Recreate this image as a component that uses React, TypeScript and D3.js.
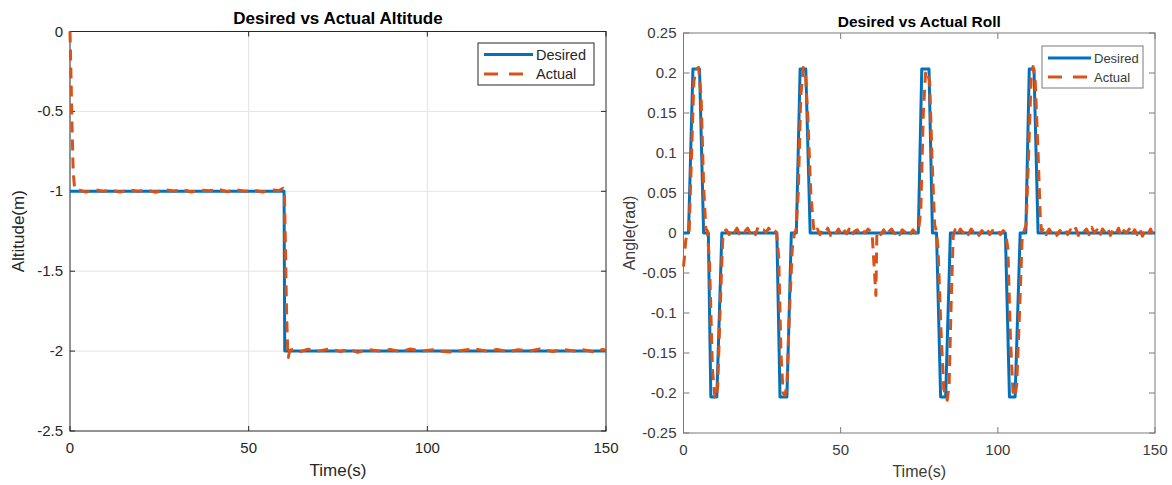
import * as d3 from 'd3'
import { useEffect, useRef } from 'react'

const W = 1172, H = 485
const FONT = '"Liberation Sans", Arial, Helvetica, sans-serif'
const BLUE = '#0072BD', ORANGE = '#D95319'

type Pt = [number, number]

const timeTicks = [0, 50, 100, 150]
const altTicks = [-2.5, -2, -1.5, -1, -0.5, 0]
const rollTicks = [-0.25, -0.2, -0.15, -0.1, -0.05, 0, 0.05, 0.1, 0.15, 0.2, 0.25]
const legendNames = ['Desired', 'Actual']

// altitude (m) vs time (s)
const desiredAlt: Pt[] = [[0, -1], [59.9, -1], [60.1, -2], [150, -2]]
const actualAlt: Pt[] = [
  [0, 0], [0.3, -0.3], [0.6, -0.62], [0.9, -0.88], [1.3, -0.985], [2.2, -0.99], [4.5, -1.005],
  [7, -0.99], [9.2, -1.0], [11.5, -0.992], [14, -1.005], [16.5, -0.99], [19, -1.0], [21.5, -0.993],
  [24, -1.006], [26.5, -0.99], [29, -0.998], [31.5, -0.99], [34, -1.004], [36.5, -0.992], [39, -0.997],
  [41.5, -0.988], [44, -1.003], [46.5, -0.99], [49, -1.0], [51.5, -0.993], [54, -1.004], [56.5, -0.992],
  [58.5, -0.995], [59.6, -0.982], [60, -1.0], [60.3, -1.35], [60.6, -1.75], [60.9, -1.98], [61.1, -2.04],
  [61.5, -1.995], [62.5, -1.99], [64.5, -2.003], [66.6, -1.988], [69.5, -2.0], [72.8, -1.986],
  [75.5, -2.002], [78.4, -1.99], [80.5, -2.008], [83.4, -1.99], [86.5, -2.0], [89.6, -1.99],
  [92.5, -2.003], [95.2, -1.987], [98.5, -2.0], [101.6, -1.992], [104.5, -2.002], [107.2, -2.006],
  [110, -1.995], [113.3, -1.986], [116.5, -2.0], [119.5, -1.99], [122.5, -2.003], [125.4, -1.992],
  [128.5, -2.0], [131.5, -1.986], [135, -2.002], [138, -1.99], [141, -2.0], [143.5, -1.992],
  [146.5, -2.004], [149.1, -1.99], [150, -1.994],
]

// roll angle (rad) vs time (s)
const desiredRoll: Pt[] = [
  [0, 0], [1.6, 0], [3.0, 0.205], [5.1, 0.205], [6.4, 0], [7.9, 0], [8.7, -0.205], [10.6, -0.205], [12.2, 0],
  [29.7, 0], [30.7, -0.205], [32.9, -0.205], [34.3, 0], [35.9, 0], [37.1, 0.205], [38.9, 0.205], [40.3, 0],
  [74.7, 0], [75.8, 0.205], [78.1, 0.205], [79.2, 0], [80.5, 0], [81.8, -0.205], [83.4, -0.205], [84.9, 0],
  [102.4, 0], [103.7, -0.205], [105.5, -0.205], [107.1, 0], [108.9, 0], [110, 0.205], [111.5, 0.205],
  [112.8, 0], [150, 0],
]
const actualRoll: Pt[] = [
  [0, -0.042], [0.3, -0.03], [0.7, -0.01], [1.2, 0], [1.8, 0.003], [2.5, 0.09], [3.3, 0.19], [4.2, 0.205],
  [4.8, 0.207], [5.6, 0.17], [6.4, 0.06], [7.1, 0.005], [7.6, 0.003], [8.3, -0.04], [9.2, -0.17],
  [10.0, -0.205], [10.4, -0.207], [10.9, -0.19], [11.7, -0.09], [12.5, -0.005], [13, 0.002],
  [13.6, 0.004], [14.5, -0.002], [15.3, 0.005], [16.2, 0.001], [17.0, 0.006], [17.8, -0.001], [18.7, 0.004],
  [19.5, 0.002], [20.4, 0.006], [21.2, 0.0], [22.0, 0.005], [22.9, -0.002], [23.7, 0.007], [24.6, 0.003],
  [25.4, 0.004], [26.3, 0.001], [27.1, 0.006], [28.0, 0.0], [28.8, 0.003], [29.6, 0.001],
  [30.3, -0.03], [31.0, -0.15], [31.7, -0.2], [32.3, -0.203], [32.9, -0.19], [33.7, -0.1], [34.6, -0.02],
  [35.3, 0.0], [35.8, 0.004], [36.5, 0.05], [37.3, 0.17], [38.1, 0.207], [38.8, 0.2], [39.6, 0.14],
  [40.5, 0.05], [41.4, 0.006], [41.9, 0.0], [42.6, 0.005], [43.4, -0.002], [44.2, 0.004], [45.1, 0.001],
  [45.9, 0.006], [46.8, -0.003], [47.6, 0.003], [48.5, 0.0], [49.3, 0.005], [50.2, -0.002], [51.0, 0.004],
  [51.9, -0.001], [52.7, 0.005], [53.6, -0.003], [54.4, 0.002], [55.3, 0.004], [56.1, -0.002], [57.0, 0.003],
  [57.8, 0.0], [58.7, 0.005], [59.5, 0.002], [60.0, 0.0], [60.3, -0.02], [60.7, -0.045], [61.2, -0.078],
  [61.5, -0.004], [62.0, 0.003], [62.8, -0.002], [63.7, 0.004], [64.5, -0.003], [65.4, 0.002], [66.2, 0.005],
  [67.1, -0.001], [67.9, 0.003], [68.8, -0.002], [69.6, 0.004], [70.5, 0.001], [71.3, 0.005], [72.2, -0.001],
  [73.0, 0.004], [73.9, 0.0], [74.8, 0.003], [75.5, 0.03], [76.3, 0.15], [77.0, 0.2], [77.5, 0.203],
  [78.3, 0.19], [79.1, 0.09], [79.9, 0.01], [80.4, 0.003], [81.0, -0.02], [81.9, -0.12], [82.8, -0.195],
  [83.9, -0.209], [84.5, -0.19], [85.2, -0.08], [85.8, -0.004], [86.4, 0.004], [87.2, -0.002], [88.1, 0.005],
  [88.9, 0.0], [89.8, 0.004], [90.6, -0.002], [91.5, 0.005], [92.3, 0.001], [93.2, 0.004], [94.0, -0.003],
  [94.9, 0.003], [95.7, 0.0], [96.6, 0.005], [97.4, -0.002], [98.3, 0.003], [99.1, 0.001], [100.0, 0.004],
  [100.8, -0.002], [101.7, 0.003], [102.5, 0.0], [103.2, -0.02], [104.0, -0.13], [104.8, -0.198],
  [105.4, -0.205], [106.0, -0.19], [106.9, -0.1], [107.7, -0.01], [108.3, 0.002], [109.0, 0.01],
  [109.8, 0.1], [110.6, 0.195], [111.2, 0.208], [111.9, 0.19], [112.8, 0.1], [113.5, 0.02], [113.9, 0.002],
  [114.6, 0.006], [115.4, -0.002], [116.3, 0.005], [117.1, 0.0], [118.0, 0.004], [118.8, -0.003],
  [119.7, 0.003], [120.5, 0.001], [121.4, 0.005], [122.2, -0.002], [123.1, 0.004], [123.9, 0.0],
  [124.8, 0.006], [125.6, -0.003], [126.5, 0.003], [127.3, 0.001], [128.2, 0.005], [129.0, -0.002],
  [129.9, 0.007], [130.7, 0.0], [131.6, 0.004], [132.4, -0.004], [133.3, 0.005], [134.1, 0.001],
  [135.0, 0.006], [135.8, -0.003], [136.7, 0.004], [137.5, -0.001], [138.4, 0.006], [139.2, -0.004],
  [140.1, 0.003], [140.9, 0.0], [141.8, 0.005], [142.6, -0.003], [143.5, 0.004], [144.3, -0.002],
  [145.2, 0.005], [146.0, -0.004], [146.9, 0.003], [147.7, -0.002], [148.6, 0.005], [149.4, -0.003], [150, 0.002],
]

const fmt = (v: number) => String(+v.toFixed(2))

const panel = (svg: any, o: any) => {
  const x = d3.scaleLinear().domain([0, 150]).range([o.l, o.r])
  const y = d3.scaleLinear().domain(o.yDomain).range([o.b, o.t])
  const g = svg.append('g').attr('font-family', FONT)

  if (o.grid) {
    g.append('g').attr('stroke', '#e3e3e3').attr('stroke-width', 1)
      .selectAll('line.gx').data(timeTicks.slice(1, -1)).join('line')
      .attr('x1', (d: number) => x(d)).attr('x2', (d: number) => x(d)).attr('y1', o.t).attr('y2', o.b)
    g.append('g').attr('stroke', '#e3e3e3').attr('stroke-width', 1)
      .selectAll('line.gy').data(o.yTicks.slice(1, -1)).join('line')
      .attr('y1', (d: number) => y(d)).attr('y2', (d: number) => y(d)).attr('x1', o.l).attr('x2', o.r)
  }

  // box + inward ticks
  g.append('rect').attr('x', o.l).attr('y', o.t).attr('width', o.r - o.l).attr('height', o.b - o.t)
    .attr('fill', 'none').attr('stroke', o.axisColor).attr('stroke-width', 1)
  const tk = g.append('g').attr('stroke', o.axisColor).attr('stroke-width', 1)
  timeTicks.forEach((d) => {
    tk.append('line').attr('x1', x(d)).attr('x2', x(d)).attr('y1', o.b).attr('y2', o.b - o.tick)
    tk.append('line').attr('x1', x(d)).attr('x2', x(d)).attr('y1', o.t).attr('y2', o.t + o.tick)
  })
  o.yTicks.forEach((d: number) => {
    tk.append('line').attr('y1', y(d)).attr('y2', y(d)).attr('x1', o.l).attr('x2', o.l + o.tick)
    tk.append('line').attr('y1', y(d)).attr('y2', y(d)).attr('x1', o.r).attr('x2', o.r - o.tick)
  })

  const line = d3.line<Pt>().x((d) => x(d[0])).y((d) => y(d[1]))
  g.append('path').attr('d', line(o.desired)).attr('fill', 'none').attr('stroke', BLUE)
    .attr('stroke-width', 3).attr('stroke-linejoin', 'round')
  g.append('path').attr('d', line(o.actual)).attr('fill', 'none').attr('stroke', ORANGE)
    .attr('stroke-width', 3).attr('stroke-dasharray', '11,7').attr('stroke-linejoin', 'round')

  // tick labels
  g.append('g').attr('fill', o.textColor).attr('font-size', o.tickSize).attr('text-anchor', 'middle')
    .selectAll('text').data(timeTicks).join('text')
    .attr('x', (d: number) => x(d)).attr('y', o.b + 22).text((d: number) => fmt(d))
  g.append('g').attr('fill', o.textColor).attr('font-size', o.tickSize).attr('text-anchor', 'end')
    .selectAll('text').data(o.yTicks).join('text')
    .attr('x', o.l - 7).attr('y', (d: number) => y(d) + 5).text((d: number) => fmt(d))

  g.append('text').attr('x', (o.l + o.r) / 2).attr('y', o.titleY).attr('text-anchor', 'middle')
    .attr('font-weight', 'bold').attr('font-size', o.titleSize).attr('fill', '#000').text(o.title)
  g.append('text').attr('x', (o.l + o.r) / 2).attr('y', o.xLabelY).attr('text-anchor', 'middle')
    .attr('font-size', o.labelSize).attr('fill', o.textColor).text('Time(s)')
  g.append('text').attr('transform', `translate(${o.yLabelX},${(o.t + o.b) / 2}) rotate(-90)`)
    .attr('text-anchor', 'middle').attr('font-size', o.labelSize).attr('fill', o.textColor).text(o.yLabel)

  // legend
  const L = o.legend
  const lg = g.append('g')
  lg.append('rect').attr('x', L.x).attr('y', L.y).attr('width', L.w).attr('height', L.h)
    .attr('fill', '#fff').attr('stroke', o.axisColor).attr('stroke-width', 1)
  legendNames.forEach((name, i) => {
    const cy = L.y + L.row0 + i * L.gap
    lg.append('line').attr('x1', L.x + 6).attr('x2', L.x + 6 + L.len).attr('y1', cy).attr('y2', cy)
      .attr('stroke', i ? ORANGE : BLUE).attr('stroke-width', 3)
      .attr('stroke-dasharray', i ? '14,11' : null)
    lg.append('text').attr('x', L.x + 9 + L.len).attr('y', cy + L.size * 0.36)
      .attr('font-size', L.size).attr('fill', o.textColor).text(name)
  })
}

export default function App() {
  const ref = useRef<SVGSVGElement>(null)
  useEffect(() => {
    if (!ref.current) return
    const svg = d3.select(ref.current)
    svg.selectAll('*').remove()
    panel(svg, {
      l: 70, r: 606, t: 31.5, b: 431, yDomain: [-2.5, 0], yTicks: altTicks, grid: true,
      axisColor: '#262626', textColor: '#262626', tick: 5, tickSize: 15,
      title: 'Desired vs Actual Altitude', titleSize: 17, titleY: 24,
      labelSize: 17, xLabelY: 476, yLabel: 'Altitude(m)', yLabelX: 24,
      desired: desiredAlt, actual: actualAlt,
      legend: { x: 478, y: 43, w: 116, h: 42, row0: 11.5, gap: 19.5, len: 49, size: 14.5 },
    })
    panel(svg, {
      l: 683.5, r: 1155, t: 33, b: 433, yDomain: [-0.25, 0.25], yTicks: rollTicks, grid: false,
      axisColor: '#7a7a7a', textColor: '#3a3a3a', tick: 6, tickSize: 15,
      title: 'Desired vs Actual Roll', titleSize: 15.5, titleY: 27,
      labelSize: 16, xLabelY: 477, yLabel: 'Angle(rad)', yLabelX: 635,
      desired: desiredRoll, actual: actualRoll,
      legend: { x: 1042, y: 46, w: 101, h: 42, row0: 12, gap: 19, len: 43, size: 13 },
    })
  }, [])
  return (
    <svg ref={ref} width={W} height={H}
      style={{ position: 'absolute', left: 0, top: 0, background: '#fff' }} />
  )
}
